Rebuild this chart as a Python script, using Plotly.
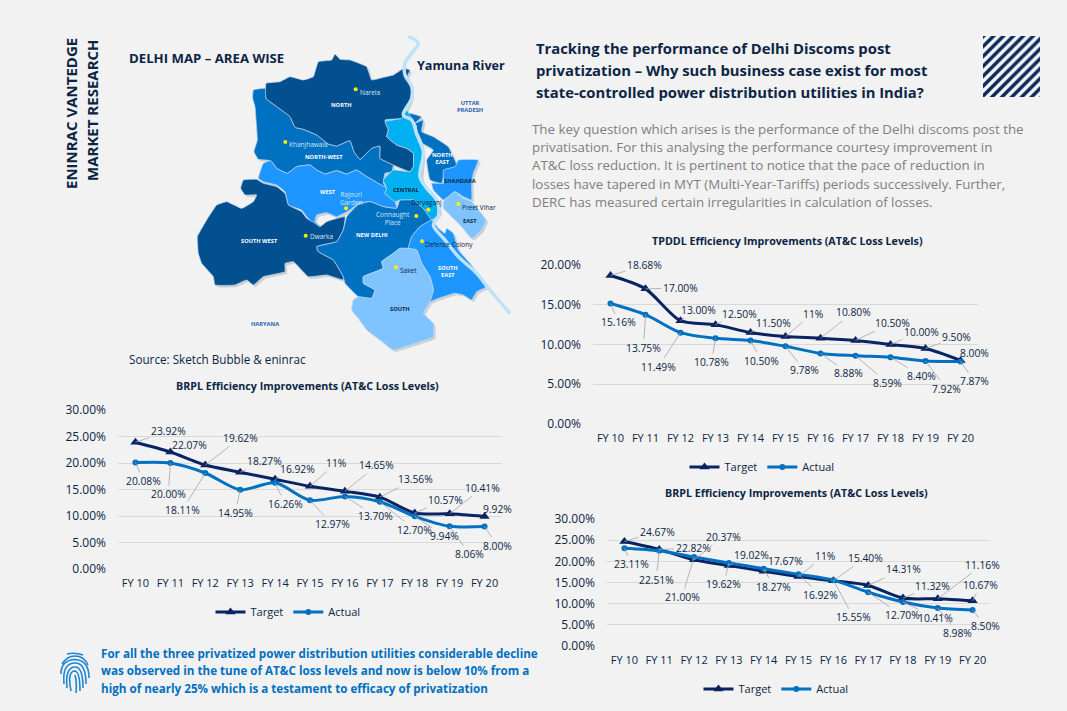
import plotly.graph_objects as go

W, H = 1067, 711
NAVY = '#0B2545'
TARGET_COLOR = '#0A2463'
ACTUAL_COLOR = '#0070C0'
FONT = 'Open Sans'

fiscal_years = ['FY 10', 'FY 11', 'FY 12', 'FY 13', 'FY 14', 'FY 15', 'FY 16', 'FY 17', 'FY 18', 'FY 19', 'FY 20']

tpddl_target = [18.68, 17.00, 13.00, 12.50, 11.50, 11.00, 10.80, 10.50, 10.00, 9.50, 8.00]
tpddl_actual = [15.16, 13.75, 11.49, 10.78, 10.50, 9.78, 8.88, 8.59, 8.40, 7.92, 7.87]
tpddl_target_labels = ['18.68%', '17.00%', '13.00%', '12.50%', '11.50%', '11%', '10.80%', '10.50%', '10.00%', '9.50%', '8.00%']
tpddl_actual_labels = ['15.16%', '13.75%', '11.49%', '10.78%', '10.50%', '9.78%', '8.88%', '8.59%', '8.40%', '7.92%', '7.87%']

brpl_target = [23.92, 22.07, 19.62, 18.27, 16.92, 15.60, 14.65, 13.56, 10.57, 10.41, 9.92]
brpl_actual = [20.08, 20.00, 18.11, 14.95, 16.26, 12.97, 13.70, 12.70, 9.94, 8.06, 8.00]
brpl_target_labels = ['23.92%', '22.07%', '19.62%', '18.27%', '16.92%', '11%', '14.65%', '13.56%', '10.57%', '10.41%', '9.92%']
brpl_actual_labels = ['20.08%', '20.00%', '18.11%', '14.95%', '16.26%', '12.97%', '13.70%', '12.70%', '9.94%', '8.06%', '8.00%']

brpl2_target = [24.67, 22.82, 20.37, 19.02, 17.67, 16.40, 15.40, 14.31, 11.32, 11.16, 10.67]
brpl2_actual = [23.11, 22.51, 21.00, 19.62, 18.27, 16.92, 15.55, 12.70, 10.41, 8.98, 8.50]
brpl2_target_labels = ['24.67%', '22.82%', '20.37%', '19.02%', '17.67%', '11%', '15.40%', '14.31%', '11.32%', '11.16%', '10.67%']
brpl2_actual_labels = ['23.11%', '22.51%', '21.00%', '19.62%', '18.27%', '16.92%', '15.55%', '12.70%', '10.41%', '8.98%', '8.50%']

# where each data label sits relative to its point, in pixels
tpddl_target_offsets = [(34, -10), (35, -1), (18, -11), (24, -11), (23, -10), (27, -23), (33, -26), (37, -18), (31, -13), (31, -11), (14, -7)]
tpddl_actual_offsets = [(8, 19), (-2, 33), (-22, 34), (-4, 24), (11, 20), (19, 24), (28, 20), (32, 27), (31, 19), (21, 28), (14, 20)]
brpl_target_offsets = [(33, -11), (19, -7), (35, -27), (24, -11), (22, -10), (26, -23), (32, -26), (36, -18), (31, -13), (33, -26), (13, -7)]
brpl_actual_offsets = [(8, 18), (-2, 31), (-23, 37), (-5, 23), (10, 21), (22, 24), (31, 20), (35, 28), (30, 20), (20, 28), (13, 19)]
brpl2_target_offsets = [(33, -10), (34, -1), (29, -23), (23, -10), (22, -10), (26, -21), (32, -23), (35, -16), (30, -12), (45, -34), (8, -16)]
brpl2_actual_offsets = [(7, 16), (-3, 29), (-12, 40), (-5, 21), (10, 18), (22, 21), (20, 37), (34, 23), (33, 16), (20, 25), (13, 16)]

# map outlines in a 1410x1050 map space
north = [(648, 190), (690, 185), (720, 170), (760, 180), (790, 170), (805, 125), (845, 120), (855, 102), (870, 118), (900, 120), (950, 140), (965, 180), (1000, 172), (1030, 165), (1062, 145), (1080, 150), (1072, 170), (1085, 205), (1085, 235), (1070, 270), (1055, 295), (1005, 300), (1015, 330), (1010, 350), (1040, 375), (1070, 385), (1090, 400), (1090, 440), (1080, 455), (1030, 435), (990, 415), (990, 378), (965, 385), (945, 405), (930, 418), (912, 395), (900, 362), (860, 378), (835, 372), (800, 345), (760, 328), (735, 322), (720, 290), (680, 260), (648, 235)]
north_west = [(610, 210), (648, 205), (648, 235), (680, 260), (720, 290), (735, 322), (760, 328), (800, 345), (835, 372), (860, 378), (900, 362), (912, 395), (930, 418), (945, 405), (965, 385), (990, 378), (990, 415), (1030, 435), (1025, 455), (1005, 460), (1000, 490), (1010, 505), (985, 490), (950, 470), (920, 450), (890, 462), (860, 452), (825, 462), (800, 450), (780, 435), (740, 440), (712, 460), (680, 445), (662, 422), (625, 418), (612, 395), (622, 360), (618, 300), (615, 260), (608, 235)]
west = [(625, 475), (640, 430), (662, 422), (680, 445), (712, 460), (740, 440), (780, 435), (800, 450), (825, 462), (860, 452), (890, 462), (920, 450), (950, 470), (985, 490), (1010, 505), (1005, 520), (1035, 545), (1040, 565), (1000, 560), (960, 545), (925, 550), (900, 570), (860, 590), (830, 578), (800, 585), (795, 605), (815, 620), (790, 610), (770, 590), (755, 570), (715, 555), (705, 515), (680, 495), (640, 485)]
south_west = [(580, 480), (620, 478), (640, 490), (680, 500), (705, 520), (715, 555), (755, 575), (770, 595), (795, 610), (810, 620), (830, 605), (885, 590), (880, 630), (860, 665), (800, 680), (805, 695), (850, 720), (880, 770), (880, 780), (830, 765), (775, 770), (730, 725), (705, 730), (705, 755), (640, 770), (610, 795), (590, 780), (555, 795), (495, 795), (490, 770), (455, 730), (445, 700), (442, 650), (470, 600), (500, 555), (530, 545), (575, 565), (610, 545), (620, 525), (585, 525), (572, 505)]
new_delhi = [(925, 553), (960, 545), (1000, 560), (1040, 565), (1050, 540), (1090, 540), (1120, 565), (1145, 600), (1110, 620), (1085, 650), (1075, 685), (1050, 685), (1030, 700), (995, 725), (1000, 745), (940, 770), (940, 790), (975, 810), (965, 835), (925, 830), (885, 790), (880, 770), (850, 720), (805, 695), (800, 680), (860, 665), (880, 630), (890, 590)]
central = [(1005, 305), (1055, 295), (1070, 270), (1085, 295), (1100, 320), (1095, 340), (1120, 400), (1115, 470), (1125, 500), (1150, 520), (1165, 550), (1170, 580), (1145, 600), (1120, 565), (1090, 540), (1050, 540), (1035, 545), (1005, 520), (1010, 505), (1000, 480), (1030, 450), (1080, 455), (1090, 440), (1090, 400), (1070, 385), (1040, 375), (1010, 350), (1015, 330)]
north_east = [(1070, 278), (1115, 290), (1095, 310), (1120, 300), (1115, 335), (1150, 350), (1195, 380), (1210, 410), (1222, 440), (1185, 450), (1175, 490), (1140, 480), (1130, 420), (1150, 390), (1100, 360), (1095, 340), (1100, 320)]
shahdara = [(1225, 420), (1285, 420), (1270, 460), (1265, 490), (1265, 540), (1240, 530), (1215, 515), (1180, 540), (1150, 510), (1145, 490), (1180, 490), (1180, 450), (1215, 440)]
east = [(1180, 545), (1215, 515), (1240, 535), (1265, 545), (1285, 570), (1308, 600), (1295, 630), (1265, 655), (1235, 620), (1205, 590), (1180, 565)]
south_east = [(1075, 685), (1085, 650), (1110, 620), (1145, 600), (1165, 625), (1185, 640), (1190, 625), (1210, 640), (1225, 690), (1260, 730), (1310, 800), (1280, 815), (1265, 840), (1240, 825), (1215, 820), (1165, 835), (1140, 845), (1150, 810), (1140, 770), (1115, 730), (1100, 690)]
south = [(1050, 685), (1075, 685), (1100, 690), (1115, 730), (1140, 770), (1150, 810), (1140, 845), (1120, 880), (1150, 910), (1150, 950), (1095, 970), (1030, 990), (990, 960), (950, 930), (925, 895), (905, 870), (910, 840), (925, 830), (965, 835), (975, 810), (940, 790), (940, 770), (1000, 745), (995, 725), (1030, 700)]
yamuna = [(1075, 50), (1105, 70), (1085, 100), (1065, 130), (1065, 165), (1085, 200), (1085, 235), (1060, 285), (1085, 300), (1100, 340), (1120, 395), (1110, 470), (1130, 505), (1160, 540), (1165, 590), (1150, 615), (1185, 660), (1225, 710), (1280, 760), (1320, 810), (1380, 880)]

map_regions = [
    (north_west, '#0070C0'), (north, '#02508F'), (west, '#1E96FF'), (south_west, '#02508F'),
    (new_delhi, '#0070C0'), (north_east, '#0070C0'), (central, '#00B0F0'), (shahdara, '#1E96FF'),
    (east, '#7FC4FF'), (south_east, '#1E96FF'), (south, '#7FC4FF'),
]

city_names = ['Narela', 'Khanjhawala', 'Dwarka', 'Rajouri<br>Garden', 'Connaught<br>Place', 'Daryaganj', 'Preet Vihar', 'Defence Colony', 'Saket']
city_dots = [(917, 208), (706, 366), (767, 647), (888, 565), (1099, 588), (1135, 569), (1225, 552), (1116, 664), (1038, 742)]
city_label_at = [(959, 217), (776, 374), (814, 649), (905, 534), (1029, 594), (1129, 547), (1288, 561), (1198, 673), (1075, 751)]
city_label_colors = ['#D6E6F5', '#D6E6F5', '#D6E6F5', '#D6E6F5', '#D6E6F5', NAVY, NAVY, NAVY, NAVY]

area_names = ['NORTH', 'NORTH-WEST', 'WEST', 'SOUTH WEST', 'NEW DELHI', 'CENTRAL', 'NORTH<br>EAST', 'SHAHDARA', 'EAST', 'SOUTH<br>EAST', 'SOUTH', 'UTTAR<br>PRADESH', 'HARYANA']
area_label_at = [(874, 255), (823, 410), (833, 516), (629, 662), (966, 645), (1068, 510), (1177, 414), (1230, 484), (1259, 602), (1194, 754), (1051, 868), (1259, 258), (646, 913)]
area_label_colors = ['white', 'white', 'white', 'white', 'white', NAVY, 'white', NAVY, NAVY, 'white', NAVY, '#1F5FA8', '#1F5FA8']

title_lines = [
    'Tracking the performance of Delhi Discoms post',
    'privatization – Why such business case exist for most',
    'state-controlled power distribution utilities in India?',
]
body_lines = [
    'The key question which arises is the performance of the Delhi discoms post the',
    'privatisation. For this analysing the performance courtesy improvement in',
    'AT&amp;C loss reduction. It is pertinent to notice that the pace of reduction in',
    'losses have tapered in MYT (Multi-Year-Tariffs) periods successively. Further,',
    'DERC has measured certain irregularities in calculation of losses.',
]
takeaway_lines = [
    'For all the three privatized power distribution utilities considerable decline',
    'was observed in the tune of AT&amp;C loss levels and now is below 10% from a',
    'high of nearly 25% which is a testament to efficacy of privatization',
]

badge_x = [983, 1040, 1040, 983, 983]
badge_y = [36, 36, 97, 97, 36]


def page_text(x, y, text, size, color=NAVY, bold=False, xanchor='left', angle=0):
    """Text placed by page pixels, measured from the top left"""
    return dict(
        x=x / W, y=1 - y / H, xref='paper', yref='paper', text=f'<b>{text}</b>' if bold else text,
        showarrow=False, xanchor=xanchor, yanchor='middle', textangle=angle, borderpad=0,
        font=dict(family=FONT, size=size, color=color),
    )


def map_text(pos, text, size, color):
    return dict(
        x=pos[0], y=pos[1], xref='x4', yref='y4', text=text, showarrow=False, align='center',
        font=dict(family=FONT, size=size, color=color),
    )


def data_labels(values, labels, offsets, axis_no):
    notes = []
    for cat, val, label, (dx, dy) in zip(fiscal_years, values, labels, offsets):
        notes.append(dict(
            x=cat, y=val, xref=f'x{axis_no}', yref=f'y{axis_no}', text=label,
            ax=dx, ay=dy, showarrow=True, arrowhead=0, arrowwidth=0.8, arrowcolor='#A6A6A6', standoff=0,
            font=dict(family=FONT, size=10.3, color=NAVY),
        ))
    return notes


def chart_traces(target, actual, axis_no):
    legend_name = 'legend' if axis_no == 1 else f'legend{axis_no}'
    return [
        go.Scatter(name='Target', x=fiscal_years, y=target, mode='lines+markers',
                   xaxis=f'x{axis_no}', yaxis=f'y{axis_no}', legend=legend_name,
                   line=dict(color=TARGET_COLOR, width=3, shape='spline', smoothing=0.8),
                   marker=dict(symbol='triangle-up', size=9, color=TARGET_COLOR)),
        go.Scatter(name='Actual', x=fiscal_years, y=actual, mode='lines+markers',
                   xaxis=f'x{axis_no}', yaxis=f'y{axis_no}', legend=legend_name,
                   line=dict(color=ACTUAL_COLOR, width=3, shape='spline', smoothing=0.8),
                   marker=dict(symbol='circle', size=6, color=ACTUAL_COLOR)),
    ]


def chart_axes(axis_no, left, right, top, bottom, y_max):
    suffix = '' if axis_no == 1 else str(axis_no)
    return {
        f'xaxis{suffix}': dict(
            domain=[left / W, right / W], anchor=f'y{axis_no}', type='category', range=[-0.5, 10.5],
            showgrid=False, zeroline=False, showline=False, ticks='', ticklabelstandoff=6, fixedrange=True,
            tickfont=dict(family=FONT, size=11, color=NAVY),
        ),
        f'yaxis{suffix}': dict(
            domain=[1 - bottom / H, 1 - top / H], anchor=f'x{axis_no}', range=[0, y_max], dtick=5,
            tickformat='.2f', ticksuffix='%', gridcolor='#D9D9D9', gridwidth=1, zeroline=False,
            showline=False, ticks='', ticklabelstandoff=11, fixedrange=True,
            tickfont=dict(family=FONT, size=12, color=NAVY),
        ),
    }


def legend_at(x, y):
    return dict(
        orientation='h', x=x / W, y=1 - y / H, xanchor='center', yanchor='middle',
        bgcolor='rgba(0,0,0,0)', font=dict(family=FONT, size=11, color=NAVY), itemwidth=30,
    )


def outline(points):
    return [p[0] for p in points] + [points[0][0]], [p[1] for p in points] + [points[0][1]]


traces = []
traces += chart_traces(tpddl_target, tpddl_actual, 1)
traces += chart_traces(brpl_target, brpl_actual, 2)
traces += chart_traces(brpl2_target, brpl2_actual, 3)

# soft drop shadow first, then the districts, then the river and the cities
for points, color in map_regions:
    xs, ys = outline(points)
    traces.append(go.Scatter(x=[v + 6 for v in xs], y=[v + 6 for v in ys], xaxis='x4', yaxis='y4', mode='lines',
                             fill='toself', fillcolor='#CDD0D3', line=dict(width=0, shape='spline', smoothing=0.3),
                             hoverinfo='skip', showlegend=False))
for points, color in map_regions:
    xs, ys = outline(points)
    traces.append(go.Scatter(x=xs, y=ys, xaxis='x4', yaxis='y4', mode='lines', fill='toself', fillcolor=color,
                             line=dict(color='#BFD9F0', width=0.7, shape='spline', smoothing=0.3),
                             hoverinfo='skip', showlegend=False))
traces.append(go.Scatter(x=[p[0] for p in yamuna], y=[p[1] for p in yamuna], xaxis='x4', yaxis='y4', mode='lines',
                         line=dict(color='#BCE3F8', width=3.5, shape='spline'), hoverinfo='skip', showlegend=False))
traces.append(go.Scatter(x=[p[0] for p in city_dots], y=[p[1] for p in city_dots], xaxis='x4', yaxis='y4', mode='markers',
                         marker=dict(color='#FFF200', size=4), hoverinfo='skip', showlegend=False))

# hatched badge at the top right
traces.append(go.Scatter(x=badge_x, y=badge_y, xaxis='x5', yaxis='y5', mode='lines', fill='toself', line=dict(width=0),
                         fillcolor='white',
                         fillpattern=dict(shape='/', size=7, solidity=0.5, fgcolor='#0B2A5B', fgopacity=1, bgcolor='#F7F7F7'),
                         hoverinfo='skip', showlegend=False))

annotations = []
annotations.append(page_text(71, 114, 'ENINRAC VANTEDGE', 15, bold=True, xanchor='center', angle=-90))
annotations.append(page_text(92, 110, 'MARKET RESEARCH', 15, bold=True, xanchor='center', angle=-90))
annotations.append(page_text(128, 58, 'DELHI MAP – AREA WISE', 13.2, bold=True))
annotations.append(page_text(416, 66, 'Yamuna River', 12.6, bold=True))
annotations.append(page_text(128, 359, 'Source: Sketch Bubble &amp; eninrac', 11.7))
for i, line in enumerate(title_lines):
    annotations.append(page_text(535, 48 + i * 22, line, 14.8, bold=True))
for i, line in enumerate(body_lines):
    annotations.append(page_text(531, 129 + i * 18.25, line, 13.35, color='#7F7F7F'))
for i, line in enumerate(takeaway_lines):
    annotations.append(page_text(100, 653 + i * 17.5, line, 11.65, color='#0070C0', bold=True))
annotations.append(page_text(787, 241, 'TPDDL Efficiency Improvements (AT&amp;C Loss Levels)', 10.7, bold=True, xanchor='center'))
annotations.append(page_text(307, 386, 'BRPL Efficiency Improvements (AT&amp;C Loss Levels)', 10.7, bold=True, xanchor='center'))
annotations.append(page_text(796, 493, 'BRPL Efficiency Improvements (AT&amp;C Loss Levels)', 10.7, bold=True, xanchor='center'))

for name, pos, color in zip(city_names, city_label_at, city_label_colors):
    annotations.append(map_text(pos, name, 6.5, color))
for name, pos, color in zip(area_names, area_label_at, area_label_colors):
    annotations.append(map_text(pos, f'<b>{name}</b>', 5.7, color))

annotations += data_labels(tpddl_target, tpddl_target_labels, tpddl_target_offsets, 1)
annotations += data_labels(tpddl_actual, tpddl_actual_labels, tpddl_actual_offsets, 1)
annotations += data_labels(brpl_target, brpl_target_labels, brpl_target_offsets, 2)
annotations += data_labels(brpl_actual, brpl_actual_labels, brpl_actual_offsets, 2)
annotations += data_labels(brpl2_target, brpl2_target_labels, brpl2_target_offsets, 3)
annotations += data_labels(brpl2_actual, brpl2_actual_labels, brpl2_actual_offsets, 3)

# fingerprint icon, drawn as nested arches
fingerprint = [
    'M67,654 Q75,652 83,655',
    'M62,664 Q67,656 75,656 Q84,656 88,665',
    'M61,674 Q61,660 75,659.5 Q89,660 89,678',
    'M64,684 Q62,663 75,663 Q86,663 86,684',
    'M67,688 Q65,667 75,667 Q83,667 83,688',
    'M71,691 Q67,671 75,671 Q80,672 80,691',
    'M75,675 Q77,682 76,693',
]
shapes = [dict(type='path', path=p, xref='x5', yref='y5', line=dict(color='#1B87D6', width=1.6)) for p in fingerprint]

layout = dict(
    width=W, height=H, autosize=False,
    margin=dict(l=0, r=0, t=0, b=0, pad=0, autoexpand=False),
    paper_bgcolor='#F2F2F2', plot_bgcolor='rgba(0,0,0,0)',
    annotations=annotations, shapes=shapes,
    legend=legend_at(762, 467), legend2=legend_at(288, 612), legend3=legend_at(776, 689),
    xaxis4=dict(domain=[50 / W, 520 / W], range=[0, 1410], visible=False, fixedrange=True, anchor='y4'),
    yaxis4=dict(domain=[1 - 370 / H, 1 - 20 / H], range=[1050, 0], visible=False, fixedrange=True, anchor='x4'),
    xaxis5=dict(domain=[0, 1], range=[0, W], visible=False, fixedrange=True, anchor='y5'),
    yaxis5=dict(domain=[0, 1], range=[H, 0], visible=False, fixedrange=True, anchor='x5'),
)
layout.update(chart_axes(1, 593, 978, 265, 424, 20))
layout.update(chart_axes(2, 118, 502, 410, 569, 30))
layout.update(chart_axes(3, 607, 990, 519, 646, 30))

fig = go.Figure(traces, layout=layout)
fig.write_html("out.html", config={'displayModeBar': False},
               post_script="document.body.style.margin='0';document.body.style.overflow='hidden';")
